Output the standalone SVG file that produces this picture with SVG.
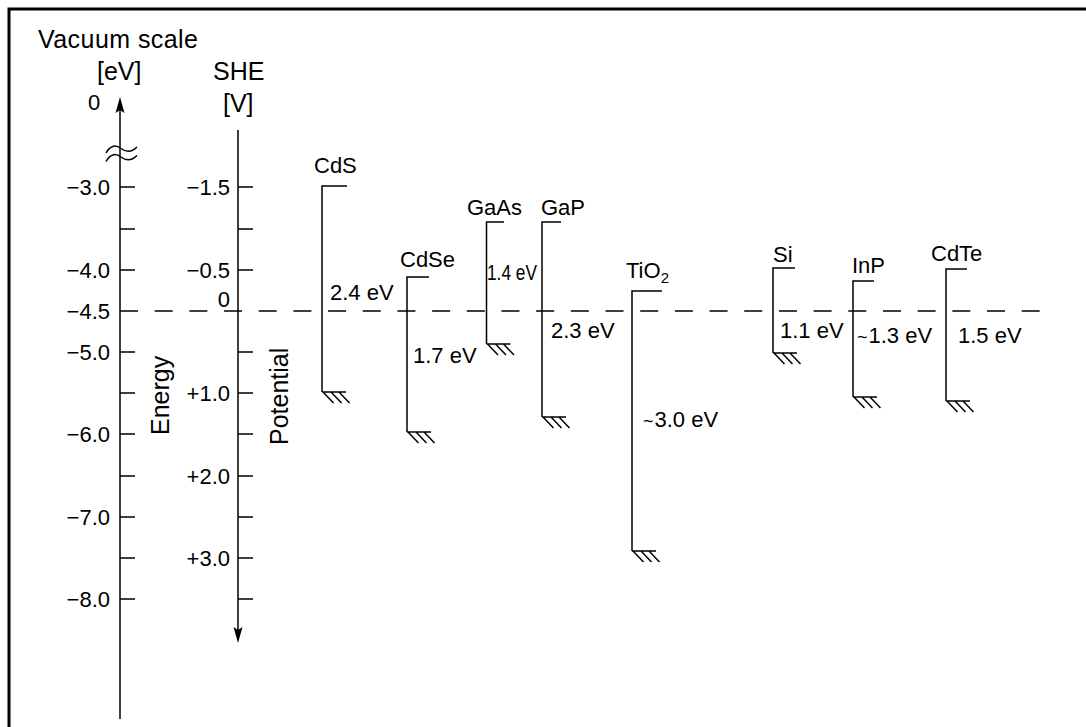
<svg xmlns="http://www.w3.org/2000/svg" xmlns:xlink="http://www.w3.org/1999/xlink" width="1086" height="727" viewBox="0 0 1086 727">
  <style>
    text { font-family: "Liberation Sans", Arial, Helvetica, sans-serif; fill: #000; }
    .hdr { font-size: 25px; }
    .tick { font-size: 22px; }
    .name { font-size: 22px; }
    .gap { font-size: 22px; }
    .tl { font-size: 18px; }
    .ln { fill: none; stroke: #000; stroke-width: 1.5; }
    .frame { fill: none; stroke: #000; stroke-width: 3; }
    .ref { fill: none; stroke: #000; stroke-width: 1.4; stroke-dasharray: 18 16.68; }
  </style>
  <defs>
    <!-- valence-band edge: short ledge with three hatch strokes underneath -->
    <path id="hatch" class="ln" d="M0,0 H24 M1,0 l10.5,11 M9,0 l10.5,11 M17,0 l10.5,11"/>
  </defs>

  <rect width="1086" height="727" fill="#fff"/>
  <path class="frame" d="M9,727 V9 H1086"/>

  <!-- vacuum energy scale -->
  <g id="energy-axis">
    <text class="hdr" x="38" y="48" textLength="160" lengthAdjust="spacing">Vacuum scale</text>
    <text class="hdr" x="97" y="80">[eV]</text>
    <text class="tick" x="88" y="110">0</text>
    <path class="ln" d="M120,108 V719"/>
    <polygon points="120,97 115.5,113 120,110 124.5,113" fill="#000"/>
    <!-- axis break -->
    <path class="ln" d="M106,153 C110,146 115,144 121,148.5 S132,152 137,147"/>
    <path class="ln" d="M106,161.5 C110,154.5 115,152.5 121,157 S132,160.5 137,155.5"/>
    <path class="ln" d="M120,187 h15 M120,229 h15 M120,270 h15 M120,352 h15 M120,393 h15 M120,434 h15 M120,476 h15 M120,517 h15 M120,558 h15 M120,599 h15"/>
    <g class="tick" text-anchor="end">
      <text x="110" y="195">−3.0</text>
      <text x="110" y="278">−4.0</text>
      <text x="110" y="319">−4.5</text>
      <text x="110" y="360">−5.0</text>
      <text x="110" y="442">−6.0</text>
      <text x="110" y="525">−7.0</text>
      <text x="110" y="607">−8.0</text>
    </g>
    <text class="hdr" transform="translate(169,435) rotate(-90)">Energy</text>
  </g>

  <!-- electrochemical potential scale -->
  <g id="she-axis">
    <text class="hdr" x="213" y="80">SHE</text>
    <text class="hdr" x="223" y="112">[V]</text>
    <path class="ln" d="M238,130 V632"/>
    <polygon points="238,643 233.5,627 238,630 242.5,627" fill="#000"/>
    <path class="ln" d="M238,187 h15 M238,229 h15 M238,270 h15 M238,352 h15 M238,393 h15 M238,434 h15 M238,476 h15 M238,517 h15 M238,558 h15 M238,599 h15"/>
    <g class="tick" text-anchor="end">
      <text x="230" y="195">−1.5</text>
      <text x="230" y="278">−0.5</text>
      <text x="230" y="307">0</text>
      <text x="230" y="401">+1.0</text>
      <text x="230" y="484">+2.0</text>
      <text x="230" y="566">+3.0</text>
    </g>
    <text class="hdr" transform="translate(288,445) rotate(-90)">Potential</text>
  </g>

  <!-- reference level (0 V vs SHE = −4.5 eV) -->
  <g id="connectors">
    <path class="ref" d="M120,311 H1042"/>
  </g>

  <!-- band edges of each semiconductor -->
  <g id="CdS">
    <text class="name" x="314" y="173">CdS</text>
    <path class="ln" d="M347,186 H322 V392"/>
    <use xlink:href="#hatch" x="322" y="392"/>
    <text class="gap" x="330" y="300">2.4 eV</text>
  </g>
  <g id="CdSe">
    <text class="name" x="400" y="267">CdSe</text>
    <path class="ln" d="M429,277 H407 V432"/>
    <use xlink:href="#hatch" x="407" y="432"/>
    <text class="gap" x="413" y="363">1.7 eV</text>
  </g>
  <g id="GaAs">
    <text class="name" x="467" y="215">GaAs</text>
    <path class="ln" d="M504,222 H486.5 V344"/>
    <use xlink:href="#hatch" x="486.5" y="344"/>
    <text class="gap" x="487" y="280" font-size="20" textLength="50" lengthAdjust="spacingAndGlyphs">1.4 eV</text>
  </g>
  <g id="GaP">
    <text class="name" x="541" y="215">GaP</text>
    <path class="ln" d="M561,222 H542 V417"/>
    <use xlink:href="#hatch" x="542" y="417"/>
    <text class="gap" x="551" y="338">2.3 eV</text>
  </g>
  <g id="TiO2">
    <text class="name" x="626" y="278">TiO<tspan font-size="15" dy="5">2</tspan></text>
    <path class="ln" d="M662,291 H632 V551"/>
    <use xlink:href="#hatch" x="632" y="551"/>
    <text class="gap" x="643" y="427"><tspan class="tl">~</tspan><tspan dx="1">3.0 eV</tspan></text>
  </g>
  <g id="Si">
    <text class="name" x="773" y="262">Si</text>
    <path class="ln" d="M795,268 H773 V353"/>
    <use xlink:href="#hatch" x="773" y="353"/>
    <text class="gap" x="780" y="338">1.1 eV</text>
  </g>
  <g id="InP">
    <text class="name" x="852" y="273">InP</text>
    <path class="ln" d="M874,281 H853 V397"/>
    <use xlink:href="#hatch" x="853" y="397"/>
    <text class="gap" x="857" y="343"><tspan class="tl">~</tspan><tspan dx="1">1.3 eV</tspan></text>
  </g>
  <g id="CdTe">
    <text class="name" x="931" y="261">CdTe</text>
    <path class="ln" d="M967,269 H946 V401"/>
    <use xlink:href="#hatch" x="946" y="401"/>
    <text class="gap" x="958" y="343">1.5 eV</text>
  </g>
</svg>
